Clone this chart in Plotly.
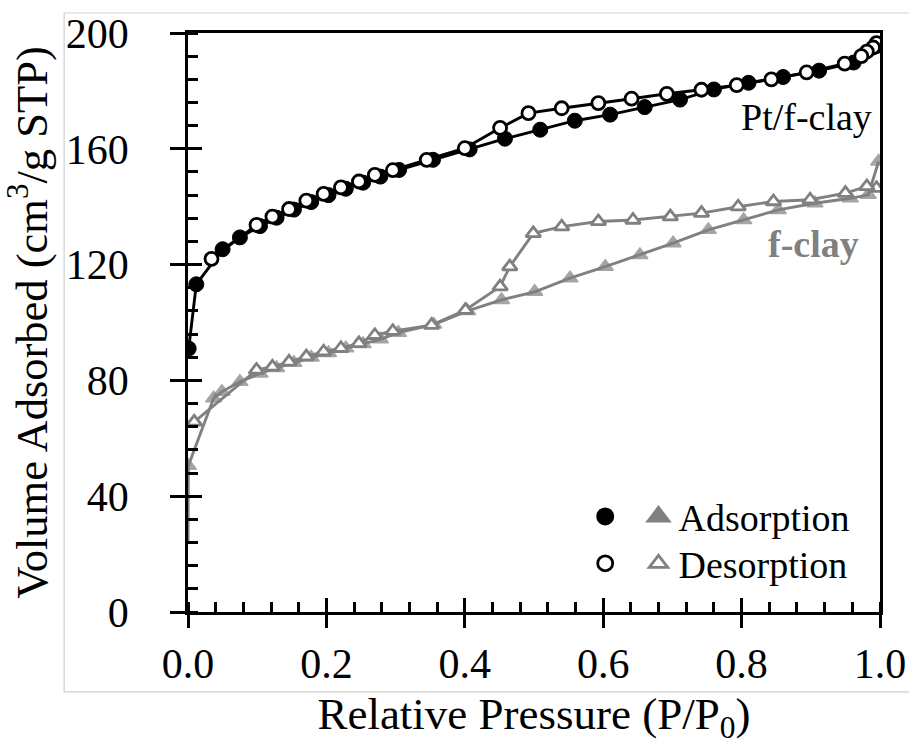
import plotly.graph_objects as go

# ---------------- data ----------------
# Pt/f-clay adsorption (filled circles)
pt_ads_x = [0.001, 0.012, 0.050, 0.075, 0.104, 0.128, 0.153, 0.178, 0.203, 0.228, 0.253, 0.278,
            0.305, 0.354, 0.407, 0.458, 0.509, 0.559, 0.610, 0.660, 0.711, 0.760, 0.810, 0.860,
            0.912, 0.962, 0.995]
pt_ads_y = [91.0, 113.2, 125.3, 129.4, 133.3, 136.2, 139.0, 141.6, 144.0, 146.2, 148.3, 150.4,
            152.7, 156.2, 159.8, 163.5, 166.6, 169.7, 171.8, 174.4, 177.0, 180.5, 182.8, 184.8,
            187.0, 189.8, 195.5]
# Pt/f-clay desorption (open circles)
pt_des_x = [0.995, 0.990, 0.981, 0.973, 0.949, 0.894, 0.843, 0.793, 0.742, 0.692, 0.641, 0.593,
            0.540, 0.492, 0.451, 0.400, 0.345, 0.296, 0.270, 0.247, 0.221, 0.196, 0.171, 0.146,
            0.122, 0.099, 0.034]
pt_des_y = [196.5, 195.0, 193.6, 192.0, 189.4, 186.4, 184.0, 182.0, 180.4, 179.0, 177.3, 175.8,
            174.0, 172.3, 167.2, 160.2, 156.2, 152.6, 151.0, 148.7, 146.7, 144.4, 142.1, 139.2,
            136.6, 133.7, 122.0]
# f-clay adsorption (filled triangles)
fc_ads_x = [0.000, 0.0005, 0.037, 0.049, 0.075, 0.104, 0.128, 0.153, 0.178, 0.203, 0.228, 0.253,
            0.278, 0.304, 0.355, 0.404, 0.453, 0.501, 0.552, 0.603, 0.653, 0.701, 0.752, 0.803,
            0.853, 0.906, 0.957, 0.983, 0.998]
fc_ads_y = [24.0, 50.5, 73.8, 76.1, 79.5, 82.4, 84.3, 86.1, 87.9, 89.5, 91.1, 92.6,
            94.2, 96.5, 99.3, 104.0, 107.8, 110.6, 115.3, 119.3, 123.3, 127.4, 132.0, 135.4,
            138.9, 141.2, 142.9, 144.1, 155.6]
# f-clay desorption (open triangles)
fc_des_x = [0.995, 0.981, 0.950, 0.899, 0.846, 0.795, 0.742, 0.697, 0.643, 0.593, 0.540, 0.499,
            0.465, 0.451, 0.401, 0.352, 0.296, 0.270, 0.247, 0.221, 0.196, 0.171, 0.146, 0.122,
            0.099, 0.009]
fc_des_y = [146.4, 147.0, 144.7, 142.4, 141.8, 140.0, 137.8, 136.6, 135.4, 134.9, 133.1, 130.8,
            119.3, 112.4, 104.3, 99.1, 97.0, 95.6, 92.8, 91.1, 89.9, 88.2, 86.4, 84.7,
            83.6, 65.7]

x_tick_vals = [0.0, 0.2, 0.4, 0.6, 0.8, 1.0]
x_tick_text = ["0.0", "0.2", "0.4", "0.6", "0.8", "1.0"]
y_tick_vals = [0, 40, 80, 120, 160, 200]
y_tick_text = ["0", "40", "80", "120", "160", "200"]

series_labels = ["Adsorption", "Desorption"]
sample_labels = ["Pt/f-clay", "f-clay"]

# ---------------- style ----------------
FONT = "Liberation Serif, Times New Roman, serif"
BLACK = "#000000"
GRAY = "#808080"
MS = 13
LW = 2.9
TW = 2.8

fig = go.Figure()

fc_ads_sizes = [0] + [MS + 1] * (len(fc_ads_x) - 1)

fig.add_trace(go.Scatter(x=fc_ads_x, y=fc_ads_y, mode="lines+markers", showlegend=False,
                         line=dict(color=GRAY, width=LW),
                         marker=dict(symbol="triangle-up", size=fc_ads_sizes, color=GRAY,
                                     line=dict(color=GRAY, width=1.5))))
fig.add_trace(go.Scatter(x=fc_des_x, y=fc_des_y, mode="lines+markers", showlegend=False,
                         line=dict(color=GRAY, width=LW),
                         marker=dict(symbol="triangle-up", size=MS, color="white",
                                     line=dict(color=GRAY, width=2.8))))
fig.add_trace(go.Scatter(x=pt_ads_x, y=pt_ads_y, mode="lines+markers", showlegend=False,
                         line=dict(color=BLACK, width=LW),
                         marker=dict(symbol="circle", size=MS + 2, color=BLACK,
                                     line=dict(color=BLACK, width=1))))
fig.add_trace(go.Scatter(x=pt_des_x, y=pt_des_y, mode="lines+markers", showlegend=False,
                         line=dict(color=BLACK, width=LW),
                         marker=dict(symbol="circle", size=MS, color="white",
                                     line=dict(color=BLACK, width=2.8))))

# dummy trace on the overlay axes that draw the inner halves of the major ticks
fig.add_trace(go.Scatter(x=[None], y=[None], xaxis="x2", yaxis="y2", mode="markers",
                         showlegend=False, hoverinfo="skip"))

# legend entries: one single-item legend per symbol
LEG_FONT = dict(family=FONT, size=38, color=BLACK)
fig.add_trace(go.Scatter(x=[None], y=[None], mode="markers", name="\u00a0", legend="legend",
                         marker=dict(symbol="circle", size=16, color=BLACK,
                                     line=dict(color=BLACK, width=2))))
fig.add_trace(go.Scatter(x=[None], y=[None], mode="markers", name="\u00a0", legend="legend2",
                         marker=dict(symbol="circle", size=15, color="white",
                                     line=dict(color=BLACK, width=2.8))))
fig.add_trace(go.Scatter(x=[None], y=[None], mode="markers", name=series_labels[0], legend="legend3",
                         marker=dict(symbol="triangle-up", size=16, color=GRAY,
                                     line=dict(color=GRAY, width=4))))
fig.add_trace(go.Scatter(x=[None], y=[None], mode="markers", name=series_labels[1], legend="legend4",
                         marker=dict(symbol="triangle-up", size=16, color="white",
                                     line=dict(color=GRAY, width=2.8))))

axis_common = dict(showline=True, linecolor=BLACK, linewidth=TW, mirror=True, automargin=False,
                   showgrid=False, zeroline=False, ticks="outside", tickcolor=BLACK,
                   tickwidth=TW, tickfont=dict(family=FONT, size=42, color=BLACK))

fig.update_layout(
    xaxis=dict(range=[0, 1], tickvals=x_tick_vals, ticktext=x_tick_text, ticklen=13,
               ticklabelstandoff=0,
               minor=dict(ticks="inside", dtick=0.04, ticklen=10, tickwidth=TW, tickcolor=BLACK),
               title=dict(text="Relative Pressure (P/P<sub>0</sub>)",
                          font=dict(family=FONT, size=45, color=BLACK), standoff=21),
               **axis_common),
    yaxis=dict(range=[0, 200], tickvals=y_tick_vals, ticktext=y_tick_text, ticklen=15,
               ticklabelstandoff=33,
               minor=dict(ticks="inside", dtick=8, ticklen=10, tickwidth=TW, tickcolor=BLACK),
               title=dict(text="Volume Adsorbed (cm<sup>3</sup>/g STP)\u00a0\u00a0",
                          font=dict(family=FONT, size=44.5, color=BLACK), standoff=9),
               **axis_common),
    xaxis2=dict(overlaying="x", anchor="y2", range=[0, 1], tickvals=x_tick_vals, ticks="inside",
                ticklen=14, tickwidth=TW, tickcolor=BLACK, showticklabels=False, showgrid=False,
                zeroline=False, showline=False, side="bottom", automargin=False),
    yaxis2=dict(overlaying="y", anchor="x2", range=[0, 200], tickvals=y_tick_vals, ticks="inside",
                ticklen=14, tickwidth=TW, tickcolor=BLACK, showticklabels=False, showgrid=False,
                zeroline=False, showline=False, side="left", automargin=False),
)

fig.add_annotation(x=0.992, y=171, xref="x", yref="y", text=sample_labels[0], showarrow=False,
                   xanchor="right", yanchor="middle", font=dict(family=FONT, size=38, color=BLACK))
fig.add_annotation(x=0.972, y=127, xref="x", yref="y", text="<b>" + sample_labels[1] + "</b>",
                   showarrow=False, xanchor="right", yanchor="middle",
                   font=dict(family=FONT, size=38, color=GRAY))

# light chart-area border
fig.add_shape(type="rect", xref="paper", yref="paper", x0=-0.179, x1=1.06, y0=-0.138, y1=1.0345,
              line=dict(color="#d0d0d0", width=1.2), layer="below")

leg_common = dict(xanchor="left", yanchor="top", bgcolor="rgba(0,0,0,0)", font=LEG_FONT,
                  itemwidth=30, borderwidth=0)
fig.update_layout(
    width=909, height=745,
    margin=dict(l=188, r=29, t=33, b=133, autoexpand=False),
    paper_bgcolor="white", plot_bgcolor="white",
    font=dict(family=FONT, color=BLACK),
    legend=dict(x=0.574, y=0.219, **leg_common),
    legend2=dict(x=0.574, y=0.138, **leg_common),
    legend3=dict(x=0.651, y=0.219, **leg_common),
    legend4=dict(x=0.651, y=0.138, **leg_common),
)

fig.write_html("out.html", config={"displayModeBar": False},
               post_script="document.body.style.margin='0';document.body.style.padding='0';")
